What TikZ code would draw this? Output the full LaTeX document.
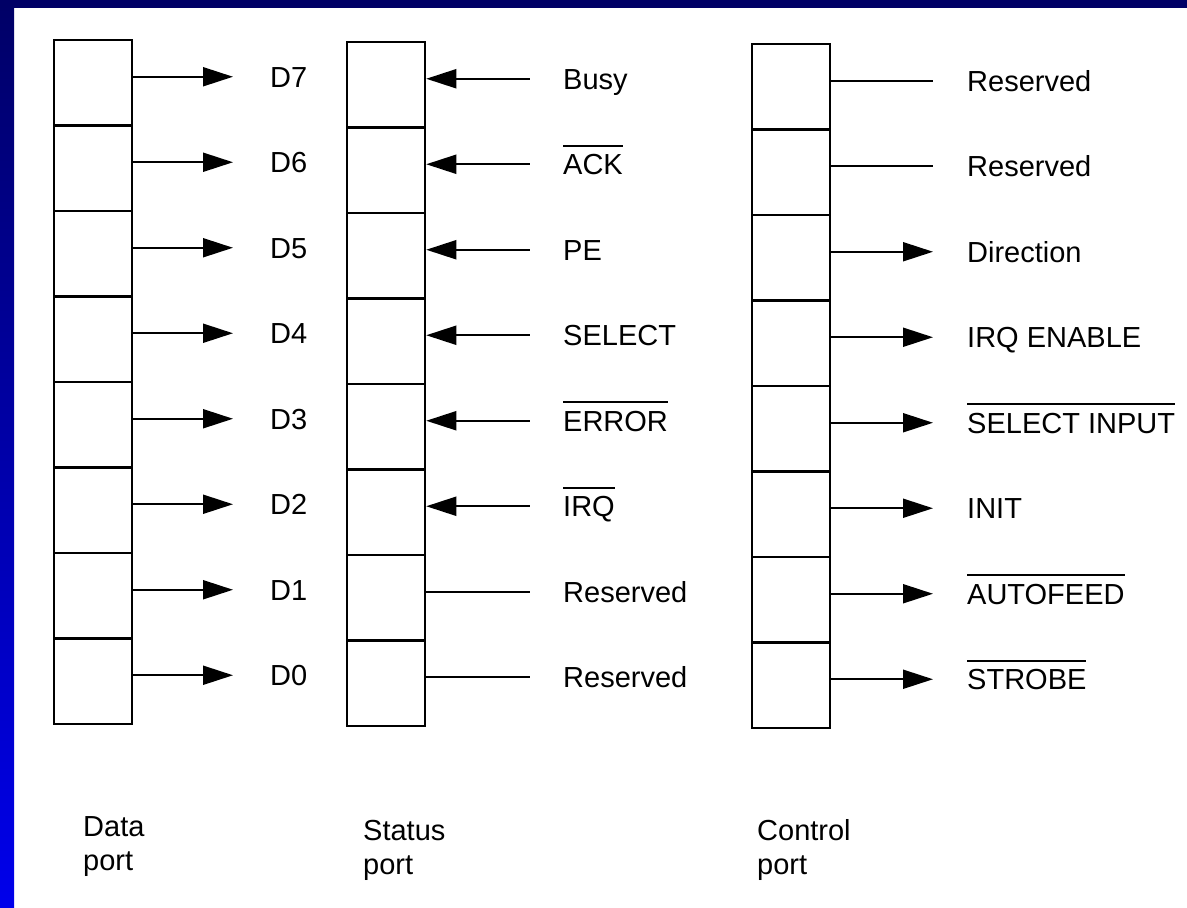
\documentclass[tikz,border=0pt]{standalone}
\usepackage{fontspec}
\setmainfont{Liberation Sans}
\usetikzlibrary{positioning,arrows.meta}
\definecolor{framenavy}{RGB}{0,0,102}
\definecolor{frameblue}{RGB}{0,0,235}
\newcommand{\notsig}[1]{\vbox{\hrule height 1.6pt\kern 8pt\hbox{#1}}}

\begin{document}
\begin{tikzpicture}[x=1pt,y=-1pt,>={Triangle[length=30pt,width=19pt]},
  every node/.style={font=\fontsize{29}{34}\selectfont},
  cell/.style={draw,line width=2.5pt,minimum width=78pt,minimum height=85.5pt,inner sep=0pt},
  sig/.style={anchor=west,inner sep=0pt,text height=21pt,text depth=0pt},
  port/.style={anchor=west,align=left,inner sep=0pt},
  wire/.style={line width=2pt}]
% frame
\useasboundingbox (0,0) rectangle (1187,908);
\fill[white] (0,0) rectangle (1187,908);
\shade[top color=framenavy,bottom color=frameblue] (0,0) rectangle (14,908);
\fill[framenavy] (0,0) rectangle (1187,8);

% data port
\foreach \b [count=\k] in {7,...,0}{
  \node[cell] (d\b) at (93,{40+85.5*(\k-0.5)}) {};
  \node[sig] (ld\b) at (270,{40+85.5*(\k-0.5)-6}) {D\b};
  \draw[wire,->,shorten >=37pt] (ld\b.west -| d\b.east) -- (ld\b.west);
}

% status port
\foreach \b/\txt/\hd [count=\k] in {7/Busy/<-,6/{\notsig{ACK}}/<-,5/PE/<-,4/SELECT/<-,
    3/{\notsig{ERROR}}/<-,2/{\notsig{IRQ}}/<-,1/Reserved/-,0/Reserved/-}{
  \node[cell] (s\b) at (386,{42+85.5*(\k-0.5)}) {};
  \node[sig] (ls\b) at (563,{42+85.5*(\k-0.5)-6}) {\txt};
  \draw[wire,\hd,shorten >=33pt] (ls\b.west -| s\b.east) -- (ls\b.west);
}

% control port
\foreach \b/\txt/\hd [count=\k] in {7/Reserved/-,6/Reserved/-,5/Direction/->,4/IRQ ENABLE/->,
    3/{\notsig{SELECT INPUT}}/->,2/INIT/->,1/{\notsig{AUTOFEED}}/->,0/{\notsig{STROBE}}/->}{
  \node[cell] (c\b) at (791,{44+85.5*(\k-0.5)}) {};
  \node[sig] (lc\b) at (967,{44+85.5*(\k-0.5)-6}) {\txt};
  \draw[wire,\hd,shorten >=34pt] (lc\b.west -| c\b.east) -- (lc\b.west);
}

\node[port] (dport) at (83,847) {Data\\port};
\node[port] (sport) at (363,850) {Status\\port};
\node[port] (cport) at (757,850) {Control\\port};
\end{tikzpicture}
\end{document}
